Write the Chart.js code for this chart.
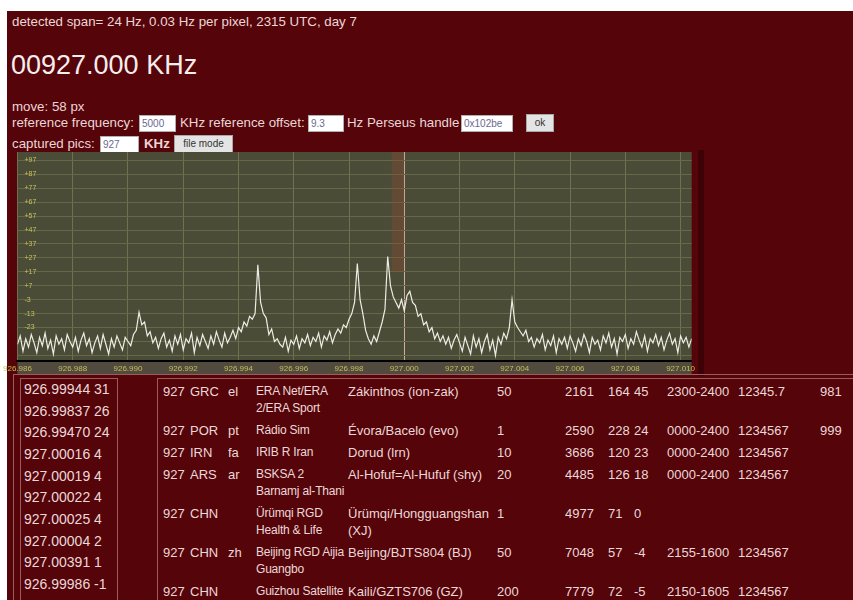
<!DOCTYPE html>
<html><head><meta charset="utf-8">
<script src="https://cdn.jsdelivr.net/npm/chart.js@4/dist/chart.umd.min.js"></script>
<style>
html,body{margin:0;padding:0;width:853px;height:600px;overflow:hidden;background:#fff;font-family:"Liberation Sans",Arial,sans-serif;}
#page{position:absolute;left:7px;top:11px;width:846px;height:589px;background:#55040a;}
.t{position:absolute;white-space:nowrap;color:#ecd6d6;font-size:13.3px;line-height:14px;}
.box{position:absolute;background:#fff;border:1px solid #b0b0b0;color:#6a6a90;font-size:10px;line-height:15px;padding-left:2px;box-sizing:border-box;}
.btn{position:absolute;background:#e4e4e4;border:1px solid #a8a8a8;color:#333;font-size:10px;line-height:15px;text-align:center;box-sizing:border-box;}
#lst{position:absolute;left:20px;top:378px;width:98px;height:240px;border:1px solid #9c5c5c;box-sizing:border-box;}
#lst div{padding-left:3px;line-height:21.67px;font-size:14px;color:#ecd8d8;white-space:nowrap;}
#outer{position:absolute;left:13px;top:374px;width:850px;height:240px;border-left:1px solid #9c5c5c;border-top:1px solid #9c5c5c;}
#rbox{position:absolute;left:157px;top:378px;width:720px;height:240px;border-left:1px solid #9c5c5c;border-top:1px solid #9c5c5c;}
#st{position:absolute;left:160px;top:380px;border-collapse:collapse;table-layout:fixed;width:717px;}
#st td{padding:2.5px 0 2.5px 3px;line-height:17px;font-size:13px;color:#ecd8d8;vertical-align:top;white-space:nowrap;overflow:visible;}
#st td.nm{font-size:12px;letter-spacing:-0.2px;}
</style></head>
<body>
<div id="page"></div>
<div class="t" style="left:12px;top:15px;">detected span= 24 Hz, 0.03 Hz per pixel, 2315 UTC, day 7</div>
<div class="t" style="left:11px;top:52px;font-size:27px;line-height:26px;color:#f6eeee;">00927.000 KHz</div>
<div class="t" style="left:12px;top:100px;">move: 58 px</div>
<div class="t" style="left:12px;top:116px;">reference frequency:</div>
<div class="box" style="left:139px;top:115px;width:37px;height:17px;">5000</div>
<div class="t" style="left:180px;top:116px;">KHz reference offset:</div>
<div class="box" style="left:308px;top:115px;width:36px;height:17px;">9.3</div>
<div class="t" style="left:347px;top:116px;">Hz Perseus handle</div>
<div class="box" style="left:461px;top:115px;width:52px;height:17px;">0x102be</div>
<div class="btn" style="left:526px;top:114px;width:28px;height:18px;">ok</div>
<div class="t" style="left:12px;top:137px;">captured pics:</div>
<div class="box" style="left:100px;top:136px;width:39px;height:17px;">927</div>
<div class="t" style="left:144px;top:137px;font-weight:bold;">KHz</div>
<div class="btn" style="left:174px;top:135px;width:59px;height:18px;">file mode</div>

<div style="position:absolute;left:698px;top:150px;width:6px;height:226px;background:#3c0206;"></div>
<canvas id="c" width="698" height="222" style="position:absolute;left:0;top:152px;"></canvas>

<div id="outer"></div>
<div id="lst"></div>
<div id="rbox"></div>
<table id="st"><colgroup id="cols"></colgroup><tbody id="rows"></tbody></table>

<script>
// ---- spectrum data ----
const startHz = -14.0;   // offset from 927.000 kHz of first sample (Hz)
const stepHz = 0.1;      // sample spacing (Hz)
const levels = [
 8,14,3,12,6,15,9,2,13,7,16,5,11,1,14,8,12,4,15,10,
 6,13,3,11,16,7,12,2,9,14,5,15,8,1,12,6,14,9,4,13,
 10,7,15,18,31,22,24,14,17,9,13,5,12,16,6,11,3,14,8,15,
 4,12,9,16,2,13,7,15,10,5,14,8,17,11,6,16,9,13,18,12,
 20,17,24,21,28,26,30,65,38,30,27,15,19,10,12,8,6,13,3,11,
 8,14,5,12,9,15,7,13,10,16,6,14,11,17,9,15,19,16,22,20,
 26,30,38,66,40,30,18,12,8,14,10,17,24,33,71,50,42,38,34,40,
 32,43,46,38,36,28,30,22,24,17,20,12,16,10,14,8,13,5,11,15,
 9,3,13,7,1,14,6,12,2,10,15,4,11,0,13,8,16,12,20,40,
 24,20,17,14,18,10,13,6,12,9,15,4,11,7,14,2,12,8,13,5,
 14,9,3,12,7,15,10,2,13,8,11,4,14,9,16,6,12,1,13,10,
 15,5,12,8,17,11,6,14,3,12,9,15,7,13,4,11,16,8,12,2,14,9,13,6,12
];
const xTickValues = [-14,-12,-10,-8,-6,-4,-2,0,2,4,6,8,10];
const xTickLabels = ["926.986","926.988","926.990","926.992","926.994","926.996","926.998","927.000","927.002","927.004","927.006","927.008","927.010"];
const yGridValues = [0,10,20,30,40,50,60,70,80,90,100,110,120,130,140];
const yTickValues = [140,130,120,110,100,90,80,70,60,50,40,30,20];
const yTickLabels = ["+97","+87","+77","+67","+57","+47","+37","+27","+17","+7","-3","-13","-23"];
const markerFromHz = -0.45, markerToHz = 0, markerTopLevel = 60;

// ---- tables ----
const peakFreqs = ["926.99944","926.99837","926.99470","927.00016","927.00019","927.00022","927.00025","927.00004","927.00391","926.99986"];
const peakCounts = ["31","26","24","4","4","4","4","2","1","-1"];
const stFreq = ["927","927","927","927","927","927","927"];
const stCountry = ["GRC","POR","IRN","ARS","CHN","CHN","CHN"];
const stLang = ["el","pt","fa","ar","","zh",""];
const stName = [["ERA Net/ERA","2/ERA Sport"],["Rádio Sim"],["IRIB R Iran"],["BSKSA 2","Barnamj al-Thani"],["Ürümqi RGD","Health & Life"],["Beijing RGD Aijia","Guangbo"],["Guizhou Satellite"]];
const stSite = [["Zákinthos (ion-zak)"],["Évora/Bacelo (evo)"],["Dorud (lrn)"],["Al-Hofuf=Al-Hufuf (shy)"],["Ürümqi/Hongguangshan","(XJ)"],["Beijing/BJTS804 (BJ)"],["Kaili/GZTS706 (GZ)"]];
const stPower = ["50","1","10","20","1","50","200"];
const stDist = ["2161","2590","3686","4485","4977","7048","7779"];
const stAz = ["164","228","120","126","71","57","72"];
const stLevel = ["45","24","23","18","0","-4","-5"];
const stTime = ["2300-2400","0000-2400","0000-2400","0000-2400","","2155-1600","2150-1605"];
const stDays = ["12345.7","1234567","1234567","1234567","","1234567","1234567"];
const stExtra = ["981","999","","","","",""];

const lst = document.getElementById('lst');
peakFreqs.forEach((f,i)=>{const d=document.createElement('div');d.textContent=f+' '+peakCounts[i];lst.appendChild(d);});
const colW=[27,38,28,92,149,68,43,26,33,71,82,60];
const cg=document.getElementById('cols');
colW.forEach(w=>{const c=document.createElement('col');c.style.width=w+'px';cg.appendChild(c);});
const tb=document.getElementById('rows');
const esc=s=>s.replace(/&/g,'&amp;');
stFreq.forEach((f,i)=>{
  const tr=document.createElement('tr');
  const cells=[f,stCountry[i],stLang[i],stName[i].map(esc).join('<br>'),stSite[i].map(esc).join('<br>'),stPower[i],stDist[i],stAz[i],stLevel[i],stTime[i],stDays[i],stExtra[i]];
  tr.innerHTML=cells.map((c,k)=>'<td'+(k===3?' class="nm"':'')+'>'+(k===3||k===4?c:esc(c))+'</td>').join('');
  tb.appendChild(tr);
});

// ---- chart ----
const points = levels.map((v,i)=>({x: startHz + i*stepHz, y: v}));
const bgPlugin = {
  id:'bg',
  beforeDraw(chart){
    const {ctx, chartArea:a} = chart;
    ctx.save();
    ctx.fillStyle='#4b4c38';
    ctx.fillRect(a.left, a.top, a.right-a.left, a.bottom-a.top);
    ctx.fillStyle='#514a3e';
    ctx.fillRect(a.left, a.bottom, a.right-a.left, chart.height-a.bottom);
    ctx.restore();
  },
  beforeDatasetsDraw(chart){
    const {ctx, chartArea:a, scales:{x,y}} = chart;
    ctx.save();
    ctx.fillStyle='rgba(150,72,48,0.32)';
    const x0=x.getPixelForValue(markerFromHz), x1=x.getPixelForValue(markerToHz);
    ctx.fillRect(x0, a.top, x1-x0, y.getPixelForValue(markerTopLevel)-a.top);
    ctx.restore();
  }
};
new Chart(document.getElementById('c'), {
  type:'line',
  data:{datasets:[{data:points, borderColor:'#eeece4', borderWidth:1.2, pointRadius:0, tension:0, fill:false}]},
  options:{
    responsive:false, animation:false, devicePixelRatio:1,
    layout:{padding:{left:14,top:0,right:0,bottom:0}},
    plugins:{legend:{display:false}, tooltip:{enabled:false}},
    scales:{
      x:{type:'linear', min:-14, max:10.4,
        afterBuildTicks(s){ s.ticks = xTickValues.map(v=>({value:v})); },
        afterFit(s){ s.height = 13; },
        grid:{color:(c)=> (c.tick && c.tick.value===0) ? '#cfae9e' : '#6f7150', lineWidth:1, drawTicks:false},
        border:{display:true, color:'#000', width:2},
        ticks:{autoSkip:false, maxRotation:0, padding:3, color:'#c8bf55', font:{size:8, family:'Liberation Sans'},
          callback:(v)=>{const k=xTickValues.indexOf(v); return k>=0 ? xTickLabels[k] : '';}}
      },
      y:{type:'linear', min:-4, max:146,
        afterBuildTicks(s){ s.ticks = yGridValues.map(v=>({value:v})); },
        afterFit(s){ s.width = 0; s.paddingTop = 0; s.paddingBottom = 0; },
        grid:{color:'#66684a', lineWidth:1, drawTicks:false},
        border:{display:false},
        ticks:{mirror:true, padding:7, color:'#c9c25a', font:{size:7, family:'Liberation Sans'},
          callback:(v)=>{const k=yTickValues.indexOf(v); return k>=0 ? yTickLabels[k] : '';}}
      }
    }
  },
  plugins:[bgPlugin]
});
</script>
</body></html>
